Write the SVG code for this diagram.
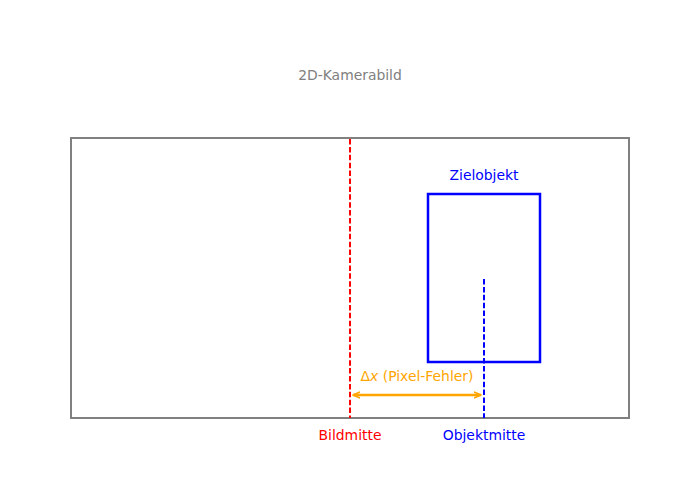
<svg xmlns="http://www.w3.org/2000/svg" width="700" height="500" viewBox="0 0 700 500">
<style>
text{font-family:"DejaVu Sans",Verdana,sans-serif;font-size:13.9px;text-anchor:middle}
.dash{stroke-width:2;stroke-dasharray:5.5 2.4;fill:none}
</style>
<defs>
<marker id="ah" viewBox="0 0 10 10" refX="9" refY="5" markerWidth="8" markerHeight="8" orient="auto-start-reverse" markerUnits="userSpaceOnUse">
<path d="M1,1.5 L9,5 L1,8.5" fill="none" stroke="#FFA500" stroke-width="2.2" stroke-linecap="round" stroke-linejoin="round"/>
</marker>
</defs>
<rect width="700" height="500" fill="#fff"/>
<text x="350" y="80" fill="#808080">2D-Kamerabild</text>
<g id="frame"><rect x="71" y="138" width="558" height="280" fill="none" stroke="#808080" stroke-width="2"/></g>
<g id="target">
<rect x="428" y="194" width="112" height="168" fill="none" stroke="#0000FF" stroke-width="2.5"/>
<text x="484" y="180" fill="#0000FF">Zielobjekt</text>
</g>
<g id="connectors">
<line class="dash" x1="350" y1="139" x2="350" y2="418" stroke="#FF0000"/>
<line class="dash" x1="484" y1="279" x2="484" y2="418" stroke="#0000FF"/>
<line x1="353" y1="395" x2="481" y2="395" stroke="#FFA500" stroke-width="2.5" marker-start="url(#ah)" marker-end="url(#ah)"/>
</g>
<g id="labels">
<text x="417" y="381" fill="#FFA500">Δ<tspan font-style="italic">x</tspan> (Pixel-Fehler)</text>
<text x="350" y="440" fill="#FF0000">Bildmitte</text>
<text x="484" y="440" fill="#0000FF">Objektmitte</text>
</g>
</svg>
